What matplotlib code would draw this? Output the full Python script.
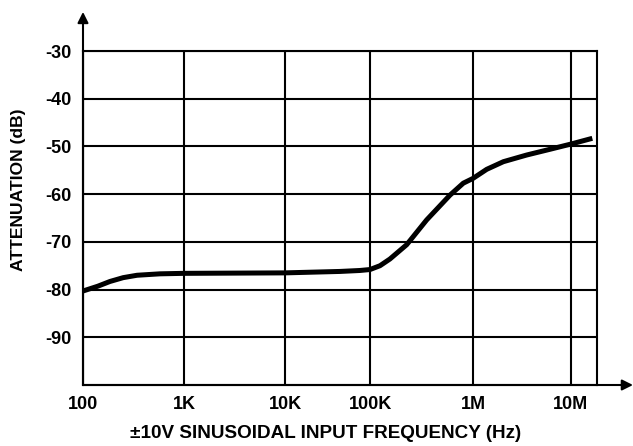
import numpy as np
import matplotlib
matplotlib.use('Agg')
import matplotlib.pyplot as plt

# data (frequency in Hz, attenuation in dB)
freq = [100, 140, 185, 250, 343, 578, 1000, 1e4, 4.44e4, 7.6e4, 1e5, 1.25e5, 1.56e5,
        2.27e5, 3.55e5, 5.98e5, 8.05e5, 1e6, 1.38e6, 2.04e6, 3.53e6, 6.1e6,
        1e7, 1.65e7]
atten = [-80.3, -79.3, -78.3, -77.5, -77.0, -76.7, -76.6, -76.5, -76.2, -76.0, -75.8, -75.0,
         -73.6, -70.6, -65.4, -60.2, -57.7, -56.7, -54.8, -53.2, -51.8, -50.6,
         -49.5, -48.3]

x_ticks = [100, 1e3, 1e4, 1e5, 1e6, 1e7]
x_labels = ['100', '1K', '10K', '100K', '1M', '10M']
y_ticks = [-90, -80, -70, -60, -50, -40, -30]

# the hand-drawn decades are not equally spaced
dec_log = [1, 2, 3, 4, 5, 6, 7, 8]
dec_pos = [-18, 83, 184, 285, 370, 473, 571, 669]


def fwd(f):
    f = np.clip(np.asarray(f, dtype=float), 1e-300, None)
    return np.interp(np.log10(f), dec_log, dec_pos)


def inv(p):
    return 10 ** np.interp(np.asarray(p, dtype=float), dec_pos, dec_log)


plt.rcParams['font.family'] = ['Liberation Sans', 'DejaVu Sans']
plt.rcParams['font.weight'] = 'bold'
plt.rcParams['axes.unicode_minus'] = False

fig = plt.figure(figsize=(6.33, 4.46), dpi=100)
ax = fig.add_axes([83 / 633, 1 - 385 / 446, (597 - 83) / 633, (385 - 51) / 446])
ax.set_xscale('function', functions=(fwd, inv))

ax.plot(freq, atten, color='black', linewidth=3.6, solid_joinstyle='round',
        solid_capstyle='butt', zorder=3)

ax.set_xlim(100, inv(597))
ax.set_ylim(-100, -30)
ax.set_xticks(x_ticks)
ax.set_xticklabels(x_labels)
ax.set_yticks(y_ticks)
ax.minorticks_off()
ax.tick_params(length=0, labelsize=13)
ax.tick_params(axis='x', pad=8)
ax.tick_params(axis='y', pad=8.3)
ax.grid(True, color='black', linewidth=1.5)
for s in ax.spines.values():
    s.set_linewidth(1.5)

fig.text(326 / 633, 1 - 434 / 446, '±10V SINUSOIDAL INPUT FREQUENCY (Hz)',
         fontsize=13.6, fontweight='bold', ha='center', va='center')
fig.text(19 / 633, 1 - 190 / 446, 'ATTENUATION (dB)', rotation=90,
         fontsize=12.6, fontweight='bold', ha='center', va='center')

# axis arrows
ax.annotate('', xy=(0, 1.117), xytext=(0, 0), xycoords='axes fraction',
            arrowprops=dict(arrowstyle='-|>', color='black', lw=1.5, mutation_scale=16,
                            shrinkA=0, shrinkB=0), annotation_clip=False)
ax.annotate('', xy=(1.07, 0), xytext=(0, 0), xycoords='axes fraction',
            arrowprops=dict(arrowstyle='-|>', color='black', lw=1.5, mutation_scale=16,
                            shrinkA=0, shrinkB=0), annotation_clip=False)

fig.savefig('out.png', dpi=100)
